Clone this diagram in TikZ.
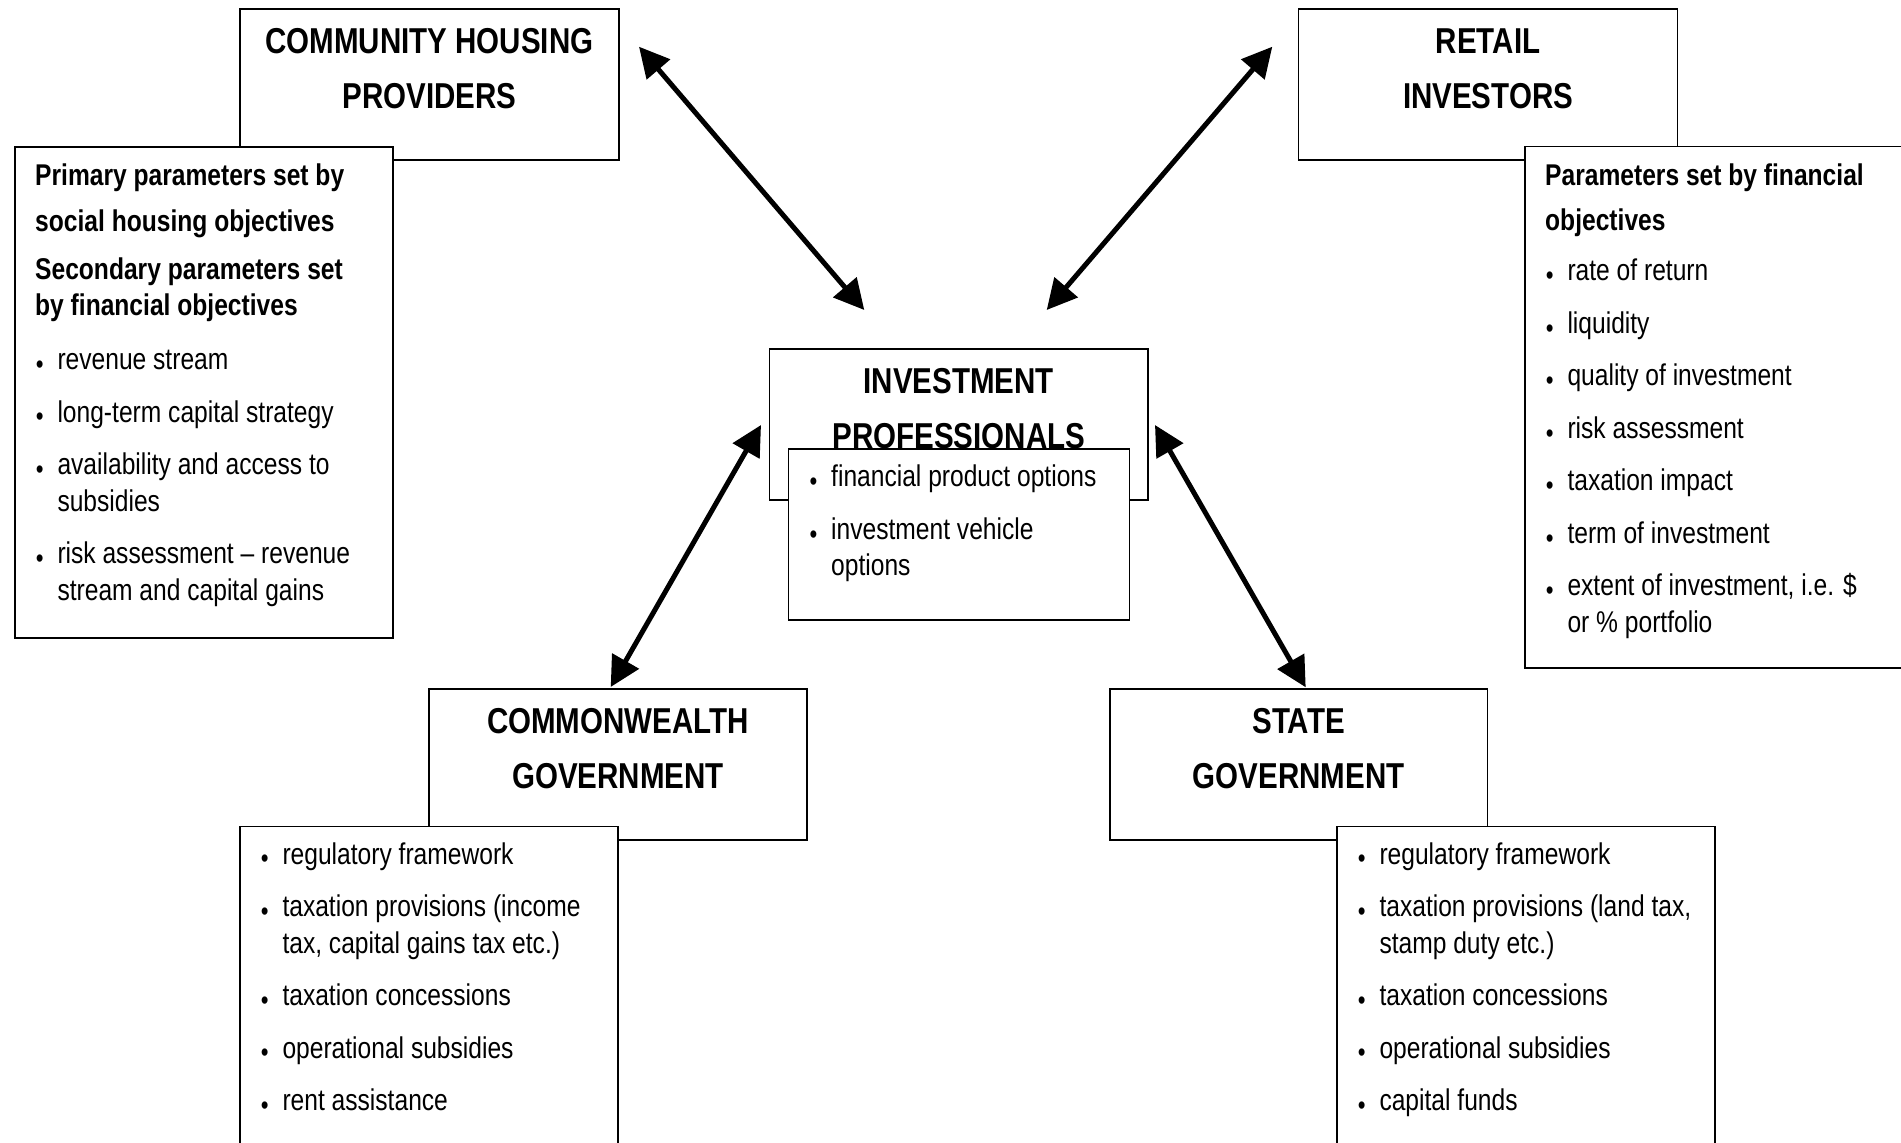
\documentclass[tikz,border=0pt]{standalone}
\usepackage{fontspec}
\setmainfont{Liberation Sans}[FakeStretch=0.82]
\usetikzlibrary{arrows.meta,calc}
\newcommand{\bul}{\makebox[22.3pt][l]{\hspace{0.6pt}\raisebox{-3.6pt}{\fontsize{27}{27}\selectfont •}}}
\newcommand{\ind}{\hspace{22.3pt}}
\begin{document}
\begin{tikzpicture}[x=1pt,y=-1pt,
  box/.style={draw, line width=1.7pt, fill=white, inner sep=0pt, anchor=north west},
  head/.style={font=\fontsize{36}{54.5}\selectfont\bfseries, align=center, inner sep=0pt, anchor=north},
  list/.style={font=\fontsize{30}{36.5}\selectfont, align=left, inner sep=0pt, anchor=north west},
  conn/.style={line width=5pt, {Triangle[length=30pt,width=30pt]}-{Triangle[length=30pt,width=30pt]}}]
\useasboundingbox (0,0) rectangle (1901,1143);
\clip (0,0) rectangle (1901,1143);
\fill[white] (0,0) rectangle (1901,1143);

% main boxes
\node[box, minimum width=379pt, minimum height=151pt] (chp) at (239,8) {};
\node[head] (chpT) at ($(chp.north)+(0,7.2)$) {\strut COMMUNITY HOUSING\\PROVIDERS};

\node[box, minimum width=379pt, minimum height=151pt] (ri) at (1297.7,8) {};
\node[head] (riT) at ($(ri.north)+(0,7.2)$) {\strut RETAIL\\INVESTORS};

\node[box, minimum width=378.6pt, minimum height=150.7pt] (ip) at (768.7,348.3) {};
\node[head] (ipT) at ($(ip.north)+(0,7.2)$) {\strut INVESTMENT\\PROFESSIONALS};

\node[box, minimum width=377.7pt, minimum height=151pt] (cg) at (428.3,688.3) {};
\node[head] (cgT) at ($(cg.north)+(0,7.2)$) {\strut COMMONWEALTH\\GOVERNMENT};

\node[box, minimum width=377.5pt, minimum height=151pt] (sg) at (1109,688.3) {};
\node[head] (sgT) at ($(sg.north)+(0,7.2)$) {\strut STATE\\GOVERNMENT};

% parameter boxes
\node[box, minimum width=378pt, minimum height=491pt] (chpP) at (14,146) {};
\node[list] (chpL) at (35,159.45) {\strut\textbf{Primary parameters set by}\\[10.2pt]
\textbf{social housing objectives}\\[10.8pt]
\textbf{Secondary parameters set}\\
\textbf{by financial objectives}\\[17.5pt]
\bul revenue stream\\[16pt]
\bul long-term capital strategy\\[16pt]
\bul availability and access to\\
\ind subsidies\\[16pt]
\bul risk assessment – revenue\\
\ind stream and capital gains};

\node[box, minimum width=420pt, minimum height=521.5pt] (riP) at (1524,145.5) {};
\node[list] (riL) at (1545,160.15) {\strut\textbf{Parameters set by financial}\\[8.5pt]
\textbf{objectives}\\[13.5pt]
\bul rate of return\\[16pt]
\bul liquidity\\[16pt]
\bul quality of investment\\[16pt]
\bul risk assessment\\[16pt]
\bul taxation impact\\[16pt]
\bul term of investment\\[16pt]
\bul extent of investment, i.e. \$\\
\ind or \% portfolio};

\node[box, minimum width=341pt, minimum height=171pt] (ipP) at (787.7,448.3) {};
\node[list] (ipL) at (808.7,461.15) {\strut\bul financial product options\\[16pt]
\bul investment vehicle\\
\ind options};

\node[box, minimum width=378pt, minimum height=340pt] (cgP) at (239,825.6) {};
\node[list] (cgL) at (260,838.45) {\strut\bul regulatory framework\\[16pt]
\bul taxation provisions (income\\
\ind tax, capital gains tax etc.)\\[16pt]
\bul taxation concessions\\[16pt]
\bul operational subsidies\\[16pt]
\bul rent assistance};

\node[box, minimum width=378pt, minimum height=340pt] (sgP) at (1336,825.6) {};
\node[list] (sgL) at (1357,838.45) {\strut\bul regulatory framework\\[16pt]
\bul taxation provisions (land tax,\\
\ind stamp duty etc.)\\[16pt]
\bul taxation concessions\\[16pt]
\bul operational subsidies\\[16pt]
\bul capital funds};

% connector ends
\coordinate (chpEnd) at (639,46.7);
\coordinate (ipNW) at (864.3,310);
\coordinate (riEnd) at (1272.3,46.7);
\coordinate (ipNE) at (1046.7,310);
\coordinate (ipSW) at (761,425);
\coordinate (cgEnd) at (610.7,687);
\coordinate (ipSE) at (1155,425);
\coordinate (sgEnd) at (1305.7,687.3);

\draw[conn] (chpEnd) -- (ipNW);
\draw[conn] (riEnd) -- (ipNE);
\draw[conn] (ipSW) -- (cgEnd);
\draw[conn] (ipSE) -- (sgEnd);
\end{tikzpicture}
\end{document}
